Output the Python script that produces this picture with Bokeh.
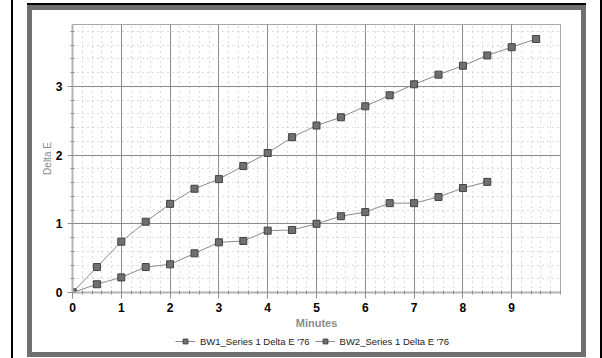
from bokeh.plotting import figure
from bokeh.models import FixedTicker, Legend, LegendItem, Range1d
from bokeh.layouts import column
from bokeh.embed import file_html
from bokeh.resources import INLINE

minutes = [0, 0.5, 1, 1.5, 2, 2.5, 3, 3.5, 4, 4.5, 5, 5.5, 6, 6.5, 7, 7.5, 8, 8.5, 9, 9.5]
bw1 = [0, 0.37, 0.74, 1.03, 1.29, 1.51, 1.65, 1.84, 2.03, 2.26, 2.43, 2.55, 2.71, 2.87,
       3.03, 3.17, 3.30, 3.45, 3.57, 3.69]
minutes2 = [0, 0.5, 1, 1.5, 2, 2.5, 3, 3.5, 4, 4.5, 5, 5.5, 6, 6.5, 7, 7.5, 8, 8.5]
bw2 = [0, 0.12, 0.22, 0.37, 0.41, 0.57, 0.73, 0.75, 0.90, 0.91, 1.00, 1.11, 1.17, 1.30,
       1.30, 1.39, 1.52, 1.61]
names = ["BW1_Series 1 Delta E '76", "BW2_Series 1 Delta E '76"]
series = [(minutes, bw1, names[0]), (minutes2, bw2, names[1])]
x_ticks = [0, 1, 2, 3, 4, 5, 6, 7, 8, 9]
y_ticks = [0, 1, 2, 3]

FONT = "Liberation Sans"
W, H = 549, 322
FL, FT, FR, FB = 40, 14, 528, 282   # plot frame in canvas pixels

LINE_KW = dict(line_color="#8a8a8a", line_width=1)
MARK_KW = dict(marker="square", size=7, fill_color="#707070", line_color="#404040", line_width=1)

p = figure(width=W, height=H, x_range=Range1d(0, 10), y_range=Range1d(0, 3.9),
           output_backend="svg", toolbar_location=None,
           min_border_left=FL, min_border_right=W - FR, min_border_top=FT,
           min_border_bottom=H - FB)
p.background_fill_color = "white"
p.border_fill_color = "white"
p.outline_line_color = "#a8a8a8"
p.outline_line_width = 1

xminor = [round(i * 0.2, 1) for i in range(0, 51)]
yminor = [round(i * 0.2, 1) for i in range(0, 20)]
p.xaxis.ticker = FixedTicker(ticks=x_ticks, minor_ticks=xminor)
p.yaxis.ticker = FixedTicker(ticks=y_ticks, minor_ticks=yminor)

for ax in (p.xaxis, p.yaxis):
    ax.major_label_text_font = FONT
    ax.major_label_text_font_style = "bold"
    ax.major_label_text_font_size = "12px"
    ax.major_label_text_color = "black"
    ax.axis_line_color = "#b4b4b4"
    ax.axis_line_width = 2
    ax.major_tick_line_color = "#909090"
    ax.minor_tick_line_color = "#909090"
    ax.major_tick_in = 0
    ax.minor_tick_in = 2
    ax.minor_tick_out = 2
    ax.axis_label_text_font = FONT
    ax.axis_label_text_color = "#8c8c8c"

p.xaxis.major_tick_out = 6
p.yaxis.major_tick_out = 5
p.xaxis.major_label_standoff = 4
p.yaxis.major_label_standoff = 5
p.xaxis.axis_label = "Minutes"
p.xaxis.axis_label_text_font_size = "11px"
p.xaxis.axis_label_text_font_style = "bold"
p.xaxis.axis_label_standoff = 2
p.yaxis.axis_label = "Delta E"
p.yaxis.axis_label_text_font_size = "10px"
p.yaxis.axis_label_text_font_style = "normal"
p.yaxis.axis_label_standoff = 0

p.xgrid.grid_line_color = "#8c8c8c"
p.ygrid.grid_line_color = "#8c8c8c"
p.xgrid.minor_grid_line_color = "#b8b8b8"
p.ygrid.minor_grid_line_color = "#b8b8b8"
p.xgrid.minor_grid_line_dash = "1 4"
p.ygrid.minor_grid_line_dash = "1 4"

for xs, ys, nm in series:
    p.line(xs, ys, **LINE_KW)
    p.scatter(xs, ys, **MARK_KW)

# legend strip below the chart (its own small figure, series kept out of view)
leg = figure(width=W, height=20, x_range=Range1d(100, 101), y_range=Range1d(100, 101),
             output_backend="svg", toolbar_location=None,
             x_axis_type=None, y_axis_type=None, min_border=0)
leg.outline_line_color = None
leg.background_fill_color = "white"
leg.border_fill_color = "white"
items = []
for xs, ys, nm in series:
    ln = leg.line(xs, ys, **LINE_KW)
    sq = leg.scatter(xs, ys, **MARK_KW)
    items.append(LegendItem(label=nm, renderers=[ln, sq]))
legend = Legend(items=items, orientation="horizontal", location=(103, 5),
                border_line_color=None, background_fill_alpha=0,
                label_text_font=FONT, label_text_font_size="9.5px",
                label_text_color="#222222", glyph_width=20, glyph_height=12,
                label_standoff=5, spacing=5, padding=0, margin=0)
leg.add_layout(legend)

layout = column(p, leg, spacing=0)
layout.margin = (10, 0, 0, 32)
layout.styles = {
    "box-shadow": "0 0 0 5px #707070, 0 -2px 0 5px #000000",
    "outline": "2px solid #000000",
    "outline-offset": "19px",
}

open("out.html", "w").write(file_html(layout, INLINE))
